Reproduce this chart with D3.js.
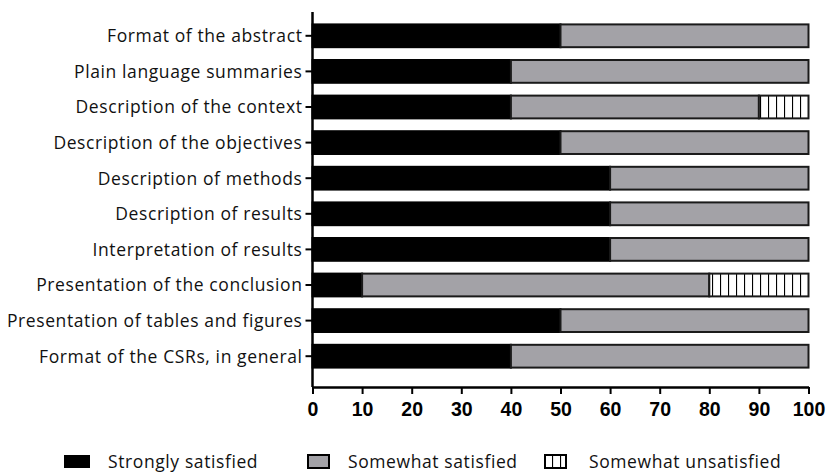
<!DOCTYPE html>
<html><head><meta charset="utf-8">
<script src="https://cdn.jsdelivr.net/npm/d3@7"></script>
<style>body{margin:0;background:#fff}</style>
</head><body>
<svg id="c" width="827" height="473"></svg>
<script>
const categories = ["Format of the abstract","Plain language summaries","Description of the context","Description of the objectives","Description of methods","Description of results","Interpretation of results","Presentation of the conclusion","Presentation of tables and figures","Format of the CSRs, in general"];
const stronglySatisfied = [50,40,40,50,60,60,60,10,50,40];
const somewhatSatisfied = [50,60,50,50,40,40,40,70,50,60];
const somewhatUnsatisfied = [0,0,10,0,0,0,0,20,0,0];
const seriesNames = ["Strongly satisfied","Somewhat satisfied","Somewhat unsatisfied"];
const xTicks = [0,10,20,30,40,50,60,70,80,90,100];

const labelFont = "'Open Sans', Lato, sans-serif";
const svg = d3.select("#c");
const defs = svg.append("defs");
const pat = defs.append("pattern").attr("id","hatch").attr("patternUnits","userSpaceOnUse").attr("width",8).attr("height",8);
pat.append("rect").attr("width",8).attr("height",8).attr("fill","#fff");
pat.append("line").attr("x1",0.5).attr("x2",0.5).attr("y1",0).attr("y2",8).attr("stroke","#000").attr("stroke-width",1.2);

const x = d3.scaleLinear().domain([0,100]).range([312.5,808.5]);
const y = d3.scaleBand().domain(categories).range([18,374]).paddingInner(0.36).paddingOuter(0.18);
const fills = ["#000","#a3a2a7","url(#hatch)"];
const data = categories.map((c,i)=>({c, v:[stronglySatisfied[i],somewhatSatisfied[i],somewhatUnsatisfied[i]]}));

const g = svg.append("g");
data.forEach(d=>{
  let acc=0;
  d.v.forEach((v,k)=>{
    if(v>0){
      g.append("rect").attr("x",x(acc)).attr("y",y(d.c)).attr("width",x(acc+v)-x(acc)).attr("height",y.bandwidth())
       .attr("fill",fills[k]).attr("stroke",k===0?"#000":"#1a1a1a").attr("stroke-width",2);
    }
    acc+=v;
  });
});

// y axis
const ya = svg.append("g").attr("transform","translate(312.5,0)");
ya.append("line").attr("x1",0).attr("x2",0).attr("y1",12).attr("y2",387).attr("stroke","#000").attr("stroke-width",2.5);
categories.forEach(c=>{
  const yy=y(c)+y.bandwidth()/2;
  ya.append("line").attr("x1",-7).attr("x2",0).attr("y1",yy).attr("y2",yy).attr("stroke","#000").attr("stroke-width",2);
  ya.append("text").attr("x",-10).attr("y",yy).attr("dy","0.36em").attr("text-anchor","end")
    .attr("font-family",labelFont).attr("font-size",17.5).attr("letter-spacing",0.6).attr("fill","#111").text(c);
});

// x axis
const xa = svg.append("g").attr("transform","translate(0,387)");
const axis = d3.axisBottom(x).tickValues(xTicks).tickSize(7).tickSizeOuter(0);
xa.call(axis);
xa.select(".domain").attr("stroke","#000").attr("stroke-width",2.5);
xa.selectAll(".tick line").attr("stroke","#000").attr("stroke-width",2);
xa.selectAll(".tick text").attr("font-family","'Liberation Sans Narrow', 'Liberation Sans', Arial, sans-serif").attr("font-weight","bold").attr("font-size",19.5).attr("fill","#000").attr("y",22).attr("dy","0.35em");

// legend
const legX=[64,308,545], textX=[108,348,589];
seriesNames.forEach((n,k)=>{
  svg.append("rect").attr("x",legX[k]).attr("y",455).attr("width",k===0?26:21).attr("height",13)
    .attr("fill",fills[k]).attr("stroke","#000").attr("stroke-width",k===0?0:2);
  svg.append("text").attr("x",textX[k]).attr("y",468).attr("font-family",labelFont)
    .attr("font-size",17.5).attr("letter-spacing",0.6).attr("fill","#111").text(n);
});
</script>
</body></html>
